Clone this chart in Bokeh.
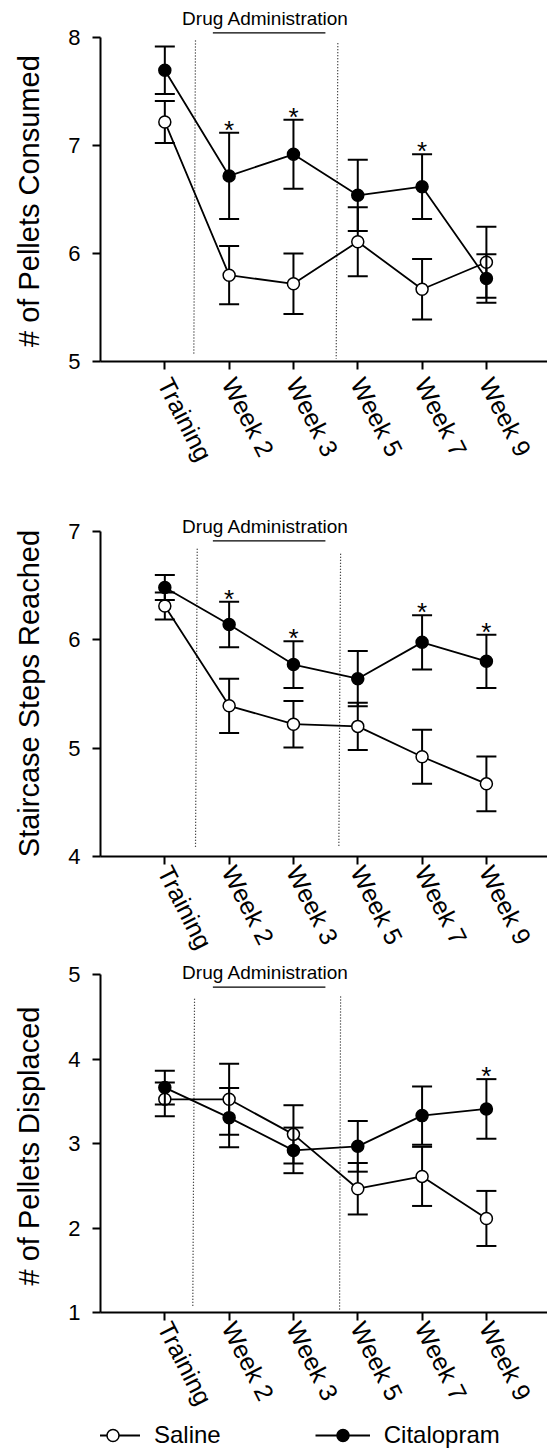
import math
from bokeh.plotting import figure
from bokeh.layouts import column
from bokeh.models import FixedTicker, Legend, LegendItem, ColumnDataSource, Range1d
from bokeh.core.properties import value
from bokeh.embed import file_html
from bokeh.resources import INLINE

# ---------------- data ----------------
categories = ["Training", "Week 2", "Week 3", "Week 5", "Week 7", "Week 9"]

# Panel 1: # of Pellets Consumed
saline_consumed = [7.22, 5.80, 5.72, 6.11, 5.67, 5.92]
saline_consumed_sem = [0.195, 0.27, 0.28, 0.32, 0.28, 0.33]
citalopram_consumed = [7.70, 6.72, 6.92, 6.54, 6.62, 5.77]
citalopram_consumed_sem = [0.22, 0.40, 0.32, 0.33, 0.30, 0.225]
stars_consumed = ["Week 2", "Week 3", "Week 7"]

# Panel 2: Staircase Steps Reached
saline_steps = [6.31, 5.39, 5.22, 5.20, 4.92, 4.67]
saline_steps_sem = [0.125, 0.25, 0.215, 0.218, 0.25, 0.252]
citalopram_steps = [6.48, 6.14, 5.77, 5.64, 5.975, 5.80]
citalopram_steps_sem = [0.115, 0.21, 0.215, 0.255, 0.25, 0.245]
stars_steps = ["Week 2", "Week 3", "Week 7", "Week 9"]

# Panel 3: # of Pellets Displaced
saline_displaced = [3.525, 3.525, 3.11, 2.466, 2.612, 2.114]
saline_displaced_sem = [0.20, 0.42, 0.345, 0.305, 0.35, 0.326]
citalopram_displaced = [3.664, 3.308, 2.92, 2.968, 3.332, 3.411]
citalopram_displaced_sem = [0.20, 0.35, 0.27, 0.30, 0.345, 0.353]
stars_displaced = ["Week 9"]

ticks_consumed = [5, 6, 7, 8]
ticks_steps = [4, 5, 6, 7]
ticks_displaced = [1, 2, 3, 4, 5]

band_label = "Drug Administration"
series_names = ["Saline", "Citalopram"]

FONT = "Liberation Sans"
NBSP = "\u00a0"
x_idx = list(range(len(categories)))

LINE_W = 1.8
MARK_SIZE = 12
MARK_LW = 1.5


def add_series(p, mean, sem, filled):
    lo = [m - s for m, s in zip(mean, sem)]
    hi = [m + s for m, s in zip(mean, sem)]
    src = ColumnDataSource(dict(x=x_idx, y=mean, lo=lo, hi=hi))
    p.segment(x0="x", y0="lo", x1="x", y1="hi", source=src, line_width=2, line_color="black")
    p.scatter(x="x", y="lo", marker="dash", size=20, line_width=2, line_color="black", source=src)
    p.scatter(x="x", y="hi", marker="dash", size=20, line_width=2, line_color="black", source=src)
    p.line(x="x", y="y", line_width=LINE_W, line_color="black", source=src)
    p.scatter(x="x", y="y", size=MARK_SIZE, line_width=MARK_LW, line_color="black",
              fill_color="black" if filled else "white", source=src)
    return hi


def make_panel(ylabel, label_pad, ticks, y_top, saline, saline_sem, cit, cit_sem, stars,
               height, border_top, border_bottom, text_y, uline_y, dots, xlabel_standoff):
    p = figure(width=547, height=height,
               x_range=Range1d(-1, 5.95), y_range=Range1d(ticks[0], y_top),
               output_backend="svg", toolbar_location=None,
               min_border_left=100, min_border_right=0, min_border_top=border_top,
               min_border_bottom=border_bottom)
    p.outline_line_color = None
    p.grid.visible = False
    p.background_fill_color = "white"

    xa = p.xaxis[0]
    xa.ticker = FixedTicker(ticks=x_idx)
    xa.major_label_overrides = {i: c for i, c in enumerate(categories)}
    xa.major_label_orientation = -1.1
    xa.major_label_text_font = FONT
    xa.major_label_text_font_size = "25px"
    xa.major_label_text_color = "black"
    xa.major_label_standoff = xlabel_standoff
    xa.major_tick_in = 0
    xa.major_tick_out = 8
    xa.minor_tick_line_color = None
    xa.axis_line_width = 2
    xa.major_tick_line_width = 2
    xa.axis_line_color = "black"
    xa.major_tick_line_color = "black"

    ya = p.yaxis[0]
    ya.ticker = FixedTicker(ticks=ticks)
    ya.bounds = (ticks[0], ticks[-1])
    ya.major_label_text_font = FONT
    ya.major_label_text_font_size = "22px"
    ya.major_label_text_color = "black"
    ya.major_label_standoff = 12
    ya.major_tick_in = 0
    ya.major_tick_out = 8
    ya.minor_tick_line_color = None
    ya.axis_line_width = 2
    ya.major_tick_line_width = 2
    ya.axis_line_color = "black"
    ya.major_tick_line_color = "black"
    # trailing no-break spaces keep the visible title centred on the tick span
    ya.axis_label = ylabel + NBSP * label_pad
    ya.axis_label_text_font = FONT
    ya.axis_label_text_font_size = "29px"
    ya.axis_label_text_font_style = "normal"
    ya.axis_label_text_color = "black"
    ya.axis_label_standoff = 20

    # dotted phase separators
    for (x0, y0, x1, y1) in dots:
        p.segment(x0=[x0], y0=[y0], x1=[x1], y1=[y1], line_dash="1 2",
                  line_width=1.2, line_color="#111111")

    # drug administration label + bar
    p.text(x=[1.566], y=[text_y], text=[band_label], text_font=value(FONT),
           text_font_size="19px", text_align="center", text_baseline="middle",
           text_color="black")
    p.segment(x0=[0.747], y0=[uline_y], x1=[2.497], y1=[uline_y],
              line_width=1.2, line_color="black")

    add_series(p, saline, saline_sem, False)
    chi = add_series(p, cit, cit_sem, True)

    sx = [categories.index(s) for s in stars]
    sy = [chi[i] for i in sx]
    p.text(x=sx, y=sy, text=["*"] * len(sx), text_font=value(FONT),
           text_font_size="26px", text_align="center", text_baseline="alphabetic",
           y_offset=-3, text_color="black")
    return p


p1 = make_panel("# of Pellets Consumed", 4, ticks_consumed, 8.2716,
                saline_consumed, saline_consumed_sem,
                citalopram_consumed, citalopram_consumed_sem, stars_consumed,
                height=514, border_top=8, border_bottom=153,
                text_y=8.18, uline_y=8.046,
                dots=[(0.477, 7.975, 0.451, 5.07), (2.69, 7.95, 2.665, 5.025)],
                xlabel_standoff=10)

p2 = make_panel("Staircase Steps Reached", 2, ticks_steps, 7.154,
                saline_steps, saline_steps_sem,
                citalopram_steps, citalopram_steps_sem, stars_steps,
                height=449, border_top=0, border_bottom=107,
                text_y=7.046, uline_y=6.911,
                dots=[(0.504, 6.838, 0.477, 4.072), (2.733, 6.792, 2.706, 4.087)],
                xlabel_standoff=3)

p3 = make_panel("# of Pellets Displaced", 2, ticks_displaced, 5.1336,
                saline_displaced, saline_displaced_sem,
                citalopram_displaced, citalopram_displaced_sem, stars_displaced,
                height=457, border_top=0, border_bottom=108,
                text_y=5.024, uline_y=4.853,
                dots=[(0.462, 4.716, 0.435, 1.075), (2.733, 4.743, 2.717, 1.015)],
                xlabel_standoff=3)

# legend strip below the last panel (key renderers are hidden; only the legend shows)
pl = figure(width=547, height=30, x_range=Range1d(0, 1), y_range=Range1d(0, 1),
            output_backend="svg", toolbar_location=None,
            x_axis_location=None, y_axis_location=None, min_border=0)
pl.outline_line_color = None
pl.grid.visible = False
key_renderers = []
for filled, series in ((False, saline_displaced), (True, citalopram_displaced)):
    src = ColumnDataSource(dict(x=x_idx, y=series))
    ln = pl.line(x="x", y="y", source=src, line_width=LINE_W, line_color="black", visible=False)
    mk = pl.scatter(x="x", y="y", source=src, size=MARK_SIZE, line_width=MARK_LW,
                    line_color="black", fill_color="black" if filled else "white",
                    visible=False)
    key_renderers.append([ln, mk])

legend = Legend(items=[LegendItem(label=name, renderers=rs)
                       for name, rs in zip(series_names, key_renderers)],
                location=(-15, 0), orientation="horizontal",
                glyph_width=55, glyph_height=30, label_standoff=14, spacing=94,
                padding=0, margin=0, border_line_color=None, background_fill_alpha=0,
                inactive_fill_alpha=0,
                label_text_font=FONT, label_text_font_size="24px", label_height=30,
                label_text_color="black")
pl.add_layout(legend)

layout = column(p1, p2, p3, pl, spacing=0)
open("out.html", "w").write(file_html(layout, INLINE))
